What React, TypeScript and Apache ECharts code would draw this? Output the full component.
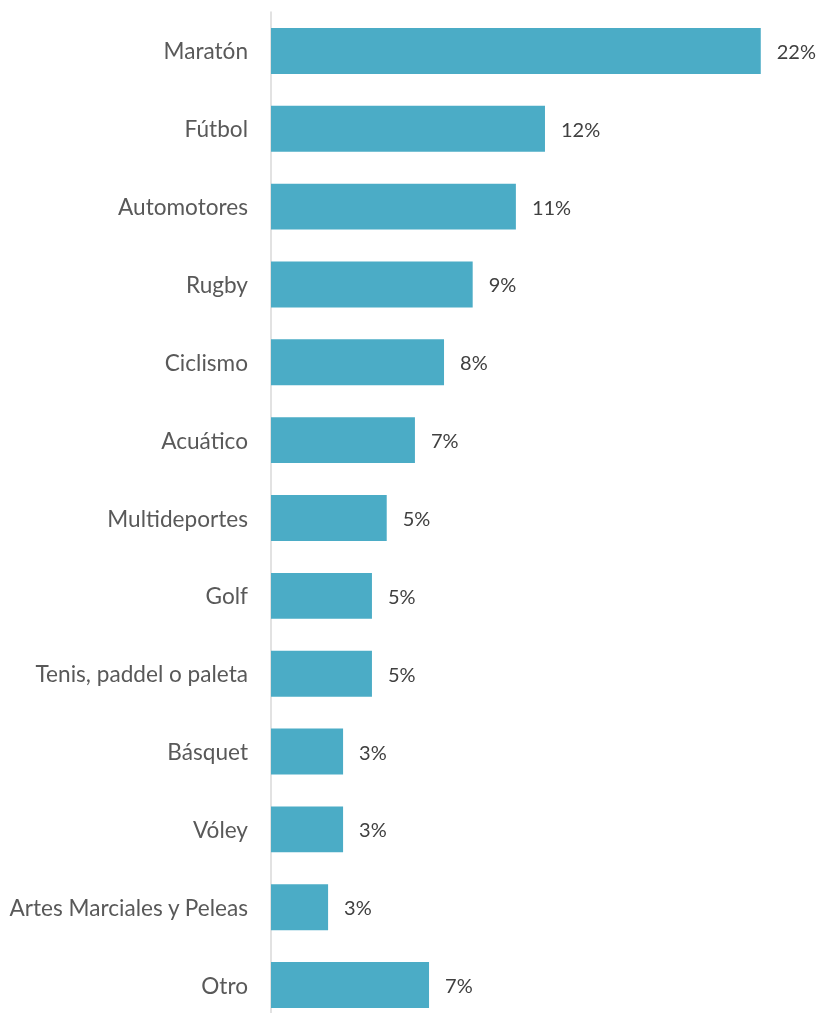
import React, { useEffect, useRef } from "react";
import * as echarts from "echarts";

const categories = [
  "Maratón",
  "Fútbol",
  "Automotores",
  "Rugby",
  "Ciclismo",
  "Acuático",
  "Multideportes",
  "Golf",
  "Tenis, paddel o paleta",
  "Básquet",
  "Vóley",
  "Artes Marciales y Peleas",
  "Otro",
];

const values = [22.22, 12.43, 11.11, 9.15, 7.85, 6.53, 5.25, 4.58, 4.58, 3.27, 3.27, 2.59, 7.17];

export default function App() {
  const ref = useRef<HTMLDivElement>(null);
  useEffect(() => {
    if (!ref.current) return;
    const chart = echarts.init(ref.current, null, { renderer: "svg" });
    chart.setOption({
      animation: false,
      grid: { left: 271, right: 21, top: 12, bottom: 0, containLabel: false },
      xAxis: {
        type: "value",
        min: 0,
        max: 24,
        show: false,
      },
      yAxis: {
        type: "category",
        data: categories,
        inverse: true,
        axisLine: { show: true, lineStyle: { color: "#D9D9D9", width: 1.5 } },
        axisTick: { show: false },
        axisLabel: {
          color: "#595959",
          fontFamily: "Lato",
          fontSize: 22.6,
          margin: 23,
        },
      },
      series: [
        {
          type: "bar",
          data: values,
          barCategoryGap: "41%",
          itemStyle: { color: "#4BACC6" },
          label: {
            show: true,
            position: "right",
            distance: 16,
            color: "#404040",
            fontFamily: "Lato",
            fontSize: 20,
            formatter: (p: any) => Math.round(p.value) + "%",
          },
        },
      ],
    });
    return () => chart.dispose();
  }, []);
  return (
    <div style={{ position: "fixed", left: 0, top: 0, width: 821, height: 1013, overflow: "hidden" }}>
      <div ref={ref} style={{ width: 821, height: 1024 }} />
    </div>
  );
}
